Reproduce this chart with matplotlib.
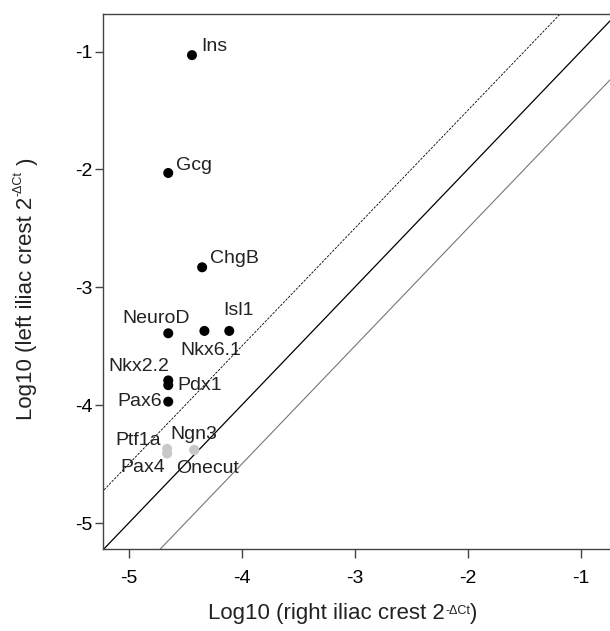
import matplotlib.pyplot as plt
import numpy as np

plt.rcParams['font.family'] = ['Liberation Sans', 'DejaVu Sans']
plt.rcParams['axes.unicode_minus'] = False

# islet genes (black) - log10 expression, right vs left iliac crest
genes = ['Ins', 'Gcg', 'ChgB', 'NeuroD', 'Nkx6.1', 'Isl1', 'Nkx2.2', 'Pdx1', 'Pax6']
right_log = [-4.44, -4.65, -4.35, -4.65, -4.33, -4.11, -4.65, -4.65, -4.65]
left_log = [-1.03, -2.03, -2.83, -3.39, -3.37, -3.37, -3.79, -3.83, -3.97]

# undetected / low genes (grey)
low_genes = ['Ptf1a', 'Pax4', 'Ngn3', 'Onecut']
low_right = [-4.66, -4.66, -4.42, -4.42]
low_left = [-4.37, -4.41, -4.38, -4.38]

# label placement (offset in pixels, alignment)
label_pos = {
    'Ins': (9, 9, 'left'), 'Gcg': (8, 7, 'left'), 'ChgB': (8, 9, 'left'),
    'NeuroD': (-12, 15, 'center'), 'Isl1': (9, 20, 'center'),
    'Nkx6.1': (6, -20, 'center'), 'Nkx2.2': (1, 14, 'right'),
    'Pdx1': (9, 0, 'left'), 'Pax6': (-6, 0, 'right'),
    'Ptf1a': (-6, 8, 'right'), 'Pax4': (-24, -14, 'center'),
    'Ngn3': (0, 15, 'center'), 'Onecut': (13, -19, 'center'),
}

fig = plt.figure(figsize=(6.10, 6.31), dpi=100)
ax = fig.add_axes([0.1684, 0.130, 0.8316, 0.848])

xlim = (-5.23, -0.74)
ylim = (-5.22, -0.68)
xx = np.array([-6, 0])
ax.plot(xx, xx + 0.5, color='black', lw=0.6, ls=(0, (3, 1.5)))
ax.plot(xx, xx, color='black', lw=0.9)
ax.plot(xx, xx - 0.5, color='#777777', lw=0.8)

ax.scatter(low_right, low_left, s=52, color='#c8c8c8', zorder=3, edgecolors='none')
ax.scatter(right_log, left_log, s=52, color='black', zorder=4, edgecolors='none')

for g, x, y in list(zip(genes, right_log, left_log)) + list(zip(low_genes, low_right, low_left)):
    dx, dy, ha = label_pos[g]
    ax.annotate(g, (x, y), xytext=(dx, dy), textcoords='offset pixels',
                ha=ha, va='center', fontsize=14, color='#222222')

ax.set_xlim(xlim)
ax.set_ylim(ylim)
ax.set_xticks([-5, -4, -3, -2, -1])
ax.set_yticks([-5, -4, -3, -2, -1])
ax.spines['right'].set_visible(False)
for s in ['left', 'bottom', 'top']:
    ax.spines[s].set_color('#444444')
    ax.spines[s].set_linewidth(1.0)
ax.tick_params(axis='x', length=6.5, width=1, color='#444444', labelsize=14, pad=9)
ax.tick_params(axis='y', length=5.5, width=1, color='#444444', labelsize=14, pad=2)

# axis titles with small superscript "-ΔCt"
renderer = fig.canvas.get_renderer()
xl = fig.text(208 / 610, 1 - 614 / 631, 'Log10 (right iliac crest 2',
              ha='left', va='center', fontsize=16, color='#222222')
bb = xl.get_window_extent(renderer).transformed(fig.transFigure.inverted())
xs = fig.text(bb.x1 + 0.001, bb.y1 - 0.012, '-\u0394Ct', ha='left', va='center',
              fontsize=9, color='#222222')
bs = xs.get_window_extent(renderer).transformed(fig.transFigure.inverted())
fig.text(bs.x1, 1 - 614 / 631, ')', ha='left', va='center', fontsize=16, color='#222222')

yl = fig.text(27 / 610, 1 - 420 / 631, 'Log10 (left iliac crest 2',
              ha='center', va='bottom', rotation=90, fontsize=16, color='#222222')
bb = yl.get_window_extent(renderer).transformed(fig.transFigure.inverted())
ys = fig.text(bb.x0 + 0.003, bb.y1 + 0.001, '-\u0394Ct', ha='center', va='bottom',
              rotation=90, fontsize=9, color='#222222')
bs = ys.get_window_extent(renderer).transformed(fig.transFigure.inverted())
fig.text(27 / 610, bs.y1, ' )', ha='center', va='bottom', rotation=90, fontsize=16,
         color='#222222')

fig.savefig('out.png', dpi=100)
